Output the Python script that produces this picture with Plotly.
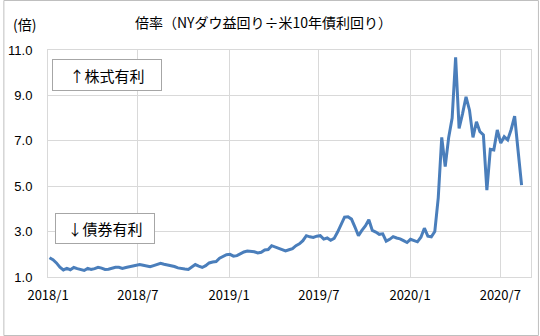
import plotly.graph_objects as go
import pandas as pd

# weekly ratio values (NY Dow earnings yield / US 10y yield)
ratio = [
    1.85, 1.76, 1.62, 1.43, 1.31, 1.38, 1.32, 1.42, 1.37, 1.32,
    1.29, 1.38, 1.33, 1.37, 1.43, 1.39, 1.33, 1.34, 1.38, 1.43,
    1.43, 1.38, 1.42, 1.45, 1.49, 1.52, 1.55, 1.52, 1.48, 1.45,
    1.50, 1.56, 1.60, 1.56, 1.53, 1.52, 1.46, 1.40, 1.36, 1.35,
    1.33, 1.45, 1.55, 1.48, 1.42, 1.50, 1.62, 1.66, 1.68, 1.83,
    1.92, 1.98, 2.00, 1.92, 1.94, 2.03, 2.10, 2.14, 2.14, 2.11,
    2.06, 2.09, 2.19, 2.21, 2.38, 2.32, 2.25, 2.18, 2.15, 2.20,
    2.25, 2.38, 2.46, 2.60, 2.82, 2.77, 2.74, 2.80, 2.82, 2.67,
    2.72, 2.62, 2.70, 2.98, 3.35, 3.64, 3.65, 3.55, 3.20, 2.82,
    3.05, 3.25, 3.52, 3.05, 2.98, 2.88, 2.90, 2.58, 2.66, 2.78,
    2.72, 2.68, 2.60, 2.52, 2.66, 2.62, 2.55, 2.75, 3.15, 2.80,
    2.77, 3.00, 4.50, 7.15, 5.86, 7.15, 8.00, 10.68, 7.55, 8.20,
    8.94, 8.35, 7.15, 7.84, 7.40, 7.26, 4.83, 6.63, 6.60, 7.48,
    6.90, 7.18, 7.04, 7.50, 8.09, 6.55, 5.05,
]
dates = pd.date_range("2018-01-04", periods=len(ratio), freq="7D")

tick_dates = ["2018-01-01", "2018-07-01", "2019-01-01", "2019-07-01", "2020-01-01", "2020-07-01"]
tick_labels = ["2018/1", "2018/7", "2019/1", "2019/7", "2020/1", "2020/7"]
y_ticks = [1.0, 3.0, 5.0, 7.0, 9.0, 11.0]

title_text = "倍率（NYダウ益回り÷米10年債利回り）"
unit_text = "(倍)"
note_up = "↑株式有利"
note_down = "↓債券有利"

W, H = 540, 336
L, R, T, B = 45, 8, 50, 59
pw, ph = W - L - R, H - T - B

def px_x(px):
    return (px - L) / pw

def px_y(py):
    return (H - B - py) / ph

grid = "#d9d9d9"
jp = "Noto Sans CJK JP"

fig = go.Figure()
fig.add_trace(go.Scatter(
    x=dates, y=ratio, mode="lines",
    line=dict(color="#4a7ebb", width=3),
    hoverinfo="skip", showlegend=False,
))

fig.update_layout(
    width=W, height=H,
    margin=dict(l=L, r=R, t=T, b=B),
    paper_bgcolor="white", plot_bgcolor="white",
    xaxis=dict(
        range=["2018-01-01", "2020-09-01"],
        tickvals=tick_dates, ticktext=tick_labels,
        showgrid=True, gridcolor=grid, gridwidth=1,
        showline=True, linecolor=grid, mirror=True,
        ticks="outside", ticklen=6, tickcolor="rgba(0,0,0,0)",
        tickfont=dict(family=jp, size=13, color="black"),
        zeroline=False,
    ),
    yaxis=dict(
        range=[1.0, 11.0],
        tickvals=y_ticks, tickformat=".1f",
        showgrid=True, gridcolor=grid, gridwidth=1,
        showline=True, linecolor=grid, mirror=True,
        ticks="outside", ticklen=12, tickcolor="rgba(0,0,0,0)",
        tickfont=dict(family="Liberation Sans", size=13, color="black"),
        zeroline=False,
    ),
    shapes=[
        dict(type="rect", xref="paper", yref="paper",
             x0=px_x(0.5), x1=px_x(539.5), y0=px_y(0.5), y1=px_y(335.5),
             line=dict(color="#bfbfbf", width=1), fillcolor="rgba(0,0,0,0)",
             layer="below"),
    ],
    annotations=[
        dict(text=title_text, xref="paper", yref="paper",
             x=px_x(262), y=px_y(22), showarrow=False,
             font=dict(family=jp, size=14, color="black"),
             xanchor="center", yanchor="middle"),
        dict(text=unit_text, xref="paper", yref="paper",
             x=px_x(8), y=px_y(24), showarrow=False,
             font=dict(family=jp, size=14, color="black"),
             xanchor="left", yanchor="middle"),
        dict(text=note_up, xref="paper", yref="paper",
             x=px_x(104), y=px_y(75), showarrow=False,
             font=dict(family=jp, size=15, color="black"),
             xanchor="center", yanchor="middle",
             bgcolor="white", bordercolor="#a6a6a6", borderwidth=1,
             borderpad=0, width=108, height=30),
        dict(text=note_down, xref="paper", yref="paper",
             x=px_x(102), y=px_y(228.5), showarrow=False,
             font=dict(family=jp, size=15, color="black"),
             xanchor="center", yanchor="middle",
             bgcolor="white", bordercolor="#a6a6a6", borderwidth=1,
             borderpad=0, width=98, height=29),
    ],
)

fig.write_html("out.html")
